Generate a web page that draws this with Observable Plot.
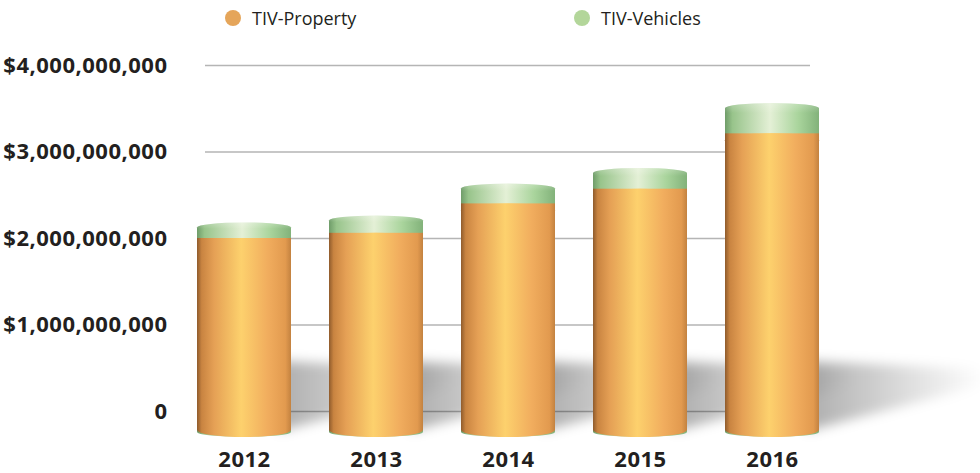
<!DOCTYPE html>
<html>
<head>
<meta charset="utf-8">
<script src="https://cdn.jsdelivr.net/npm/d3@7"></script>
<script src="https://cdn.jsdelivr.net/npm/@observablehq/plot@0.6"></script>
<style>
  html, body { margin: 0; padding: 0; background: #fff; }
  #wrap { position: relative; width: 980px; height: 473px; overflow: hidden; font-family: "Open Sans", sans-serif; }
  #legend { position: absolute; left: 0; top: 0; width: 980px; height: 40px; }
  .item { position: absolute; top: 6px; display: flex; align-items: center; font-size: 18px; color: #231f20; }
  .sw { width: 16px; height: 16px; border-radius: 50%; margin-right: 11px; }
  #chart { position: absolute; left: 0; top: 40px; }
</style>
</head>
<body>
<div id="wrap">
  <div id="legend"></div>
  <div id="chart"></div>
</div>
<script>
const years = ["2012", "2013", "2014", "2015", "2016"];
const property = [2.00e9, 2.06e9, 2.40e9, 2.57e9, 3.21e9];
const vehicles = [0.18e9, 0.20e9, 0.23e9, 0.24e9, 0.35e9];
const yTicks = [0, 1e9, 2e9, 3e9, 4e9];
const yTickLabels = ["0", "$1,000,000,000", "$2,000,000,000", "$3,000,000,000", "$4,000,000,000"];
const seriesNames = ["TIV-Property", "TIV-Vehicles"];
const seriesColors = ["#e5a55a", "#b3d69a"];
const legendLeft = [225, 574];

const rows = years.map((y, i) => ({ year: y, property: property[i], total: property[i] + vehicles[i] }));

// legend
const legend = document.getElementById("legend");
seriesNames.forEach((n, i) => {
  const it = document.createElement("div");
  it.className = "item";
  it.style.left = legendLeft[i] + "px";
  it.innerHTML = `<span class="sw" style="background:${seriesColors[i]}"></span><span>${n}</span>`;
  legend.appendChild(it);
});

const chart = Plot.plot({
  width: 980,
  height: 433,
  marginTop: 25,
  marginBottom: 62,
  marginLeft: 156.5,
  marginRight: 120.5,
  style: { fontFamily: "Open Sans, sans-serif", color: "#231f20", background: "transparent" },
  x: { domain: years, padding: 0.286, axis: null },
  y: { domain: [0, 4e9], axis: null },
  marks: [
    Plot.ruleY(yTicks, { stroke: "#b5b5b5", strokeWidth: 1.6, insetLeft: 48.5, insetRight: 49.5 }),
    Plot.barY(rows, { x: "year", y: "total", fill: "url(#gGreen)", rx: 47, ry: 5, insetBottom: -26, className: "cyl" }),
    Plot.barY(rows, { x: "year", y: "total", fill: "url(#gGreenV)", rx: 47, ry: 5, insetBottom: -26 }),
    Plot.barY(rows, { x: "year", y: "property", fill: "url(#gOrange)", rx: 47, ry: 7, insetBottom: -26 }),
    Plot.barY(rows, { x: "year", y: "property", fill: "url(#gOrange)", insetBottom: -19 }),
    Plot.axisY(yTicks, { tickSize: 0, tickPadding: 0, dx: 10.5, fontSize: 22, fontWeight: "bold",
      tickFormat: d => yTickLabels[yTicks.indexOf(d)], style: { letterSpacing: "0.5px" } }),
    Plot.axisX({ tickSize: 0, tickPadding: 40, fontSize: 22, fontWeight: "bold", label: null })
  ]
});

document.getElementById("chart").appendChild(chart);

const svg = d3.select(chart);
svg.selectAll("g[aria-label='y-axis tick label'], g[aria-label='x-axis tick label']").style("letter-spacing", "0.5px");
const defs = svg.insert("defs", ":first-child");
function grad(id, stops, vertical) {
  const g = defs.append("linearGradient").attr("id", id)
    .attr("x1", 0).attr("x2", vertical ? 0 : 1).attr("y1", 0).attr("y2", vertical ? 1 : 0);
  stops.forEach(([o, c, op]) => g.append("stop").attr("offset", o).attr("stop-color", c).attr("stop-opacity", op == null ? 1 : op));
}
grad("gOrange", [["0%", "#8f5b2c"], ["5%", "#c98441"], ["18%", "#e5a055"], ["47%", "#fdd16d"], ["75%", "#f1ad5e"], ["94%", "#e29a4f"], ["100%", "#c38240"]]);
grad("gGreen", [["0%", "#6f9c69"], ["8%", "#98c48b"], ["48%", "#e4f0d6"], ["78%", "#a9d49c"], ["100%", "#82b27a"]]);
grad("gShadow", [["0%", "#000", 0.32], ["60%", "#000", 0.12], ["100%", "#000", 0]]);
defs.append("filter").attr("id", "blur").attr("x", "-50%").attr("y", "-50%").attr("width", "200%").attr("height", "200%")
  .append("feGaussianBlur").attr("stdDeviation", 6);

// subtle vertical banding on the green top section (bbox of the whole cylinder)
const gv = defs.append("linearGradient").attr("id", "gGreenV").attr("x1", 0).attr("x2", 0).attr("y1", 0).attr("y2", 1);
[["0%", "#fff", 0.25], ["3%", "#fff", 0], ["100%", "#fff", 0]].forEach(([o, c, op]) =>
  gv.append("stop").attr("offset", o).attr("stop-color", c).attr("stop-opacity", op));

// floor shadows derived from the scales
const xs = chart.scale("x"), ys = chart.scale("y");
const B = ys.apply(0) + 26;
const firstBars = svg.select("g.cyl");
const sh = svg.insert("g", () => firstBars.node()).attr("filter", "url(#blur)");
years.forEach(y => {
  const xr = xs.apply(y) + xs.bandwidth;
  sh.append("polygon")
    .attr("points", [[xr - 12, B - 6], [xr - 12, B - 76], [xr + 165, B - 68], [xr + 165, B - 52]].map(p => p.join(",")).join(" "))
    .attr("fill", "url(#gShadow)");
});
</script>
</body>
</html>
